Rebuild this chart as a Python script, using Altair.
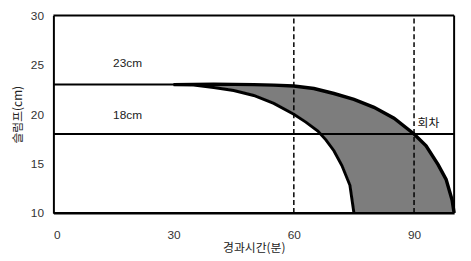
import altair as alt
import pandas as pd

# Data
x_inner = [30, 35, 40, 45, 50, 55, 60, 63, 66, 68, 70, 72, 74, 75]
y_inner = [23.0, 22.95, 22.7, 22.4, 21.9, 21.1, 20.0, 19.2, 18.3, 17.4, 16.3, 14.8, 12.8, 10.0]

x_outer = [30, 40, 50, 55, 60, 65, 70, 75, 80, 85, 90, 93, 96, 98, 99.5, 100]
y_outer = [23.0, 23.05, 23.0, 22.95, 22.85, 22.6, 22.1, 21.5, 20.7, 19.6, 18.0, 16.8, 14.9, 13.4, 11.3, 10.0]

h_levels = [23, 18]
h_start = [0, 0]
h_end = [44, 100]
h_labels = ["23cm", "18cm"]
h_label_x = [18.5, 18.5]
h_label_y = [25.2, 19.9]

v_levels = [60, 90]

note_text = ["회차"]
note_x = [93.6]
note_y = [19.1]

x_ticks = [0, 30, 60, 90]
y_ticks = [10, 15, 20, 25, 30]
x_min, x_max = 0, 100
y_min, y_max = 10, 30

inner = pd.DataFrame({"x": x_inner, "y": y_inner})
outer = pd.DataFrame({"x": x_outer, "y": y_outer})
hdf = pd.DataFrame({"y": h_levels, "x": h_start, "x2": h_end})
ldf = pd.DataFrame({"t": h_labels, "x": h_label_x, "y": h_label_y})
vdf = pd.DataFrame({"x": v_levels})
ndf = pd.DataFrame({"t": note_text, "x": note_x, "y": note_y})

xs = alt.Scale(domain=[x_min, x_max], nice=False, zero=False)
ys = alt.Scale(domain=[y_min, y_max], nice=False, zero=False)

xax = alt.Axis(values=x_ticks, title="경과시간(분)", grid=False, ticks=False, domain=True,
               domainColor="black", domainWidth=2, labelPadding=17, titlePadding=2)
yax = alt.Axis(values=y_ticks, title="슬럼프(cm)", grid=False, ticks=False, domain=True,
               domainColor="black", domainWidth=2, labelPadding=10, titlePadding=6)

X = alt.X("x:Q", scale=xs, axis=xax)
Y = alt.Y("y:Q", scale=ys, axis=yax)

area_outer = alt.Chart(outer).mark_area(color="#7d7d7d", opacity=1).encode(
    x=X, y=Y, y2=alt.datum(y_min))
area_inner = alt.Chart(inner).mark_area(color="white", opacity=1, stroke="white", strokeWidth=2).encode(
    x=alt.X("x:Q", scale=xs), y=alt.Y("y:Q", scale=ys), y2=alt.datum(y_min))

hrules = alt.Chart(hdf).mark_rule(color="black", strokeWidth=2).encode(
    x=alt.X("x:Q", scale=xs), x2="x2:Q", y=alt.Y("y:Q", scale=ys))
vrules = alt.Chart(vdf).mark_rule(color="black", strokeWidth=1.5, strokeDash=[5, 3]).encode(
    x=alt.X("x:Q", scale=xs), y=alt.datum(y_min), y2=alt.datum(y_max))

line_inner = alt.Chart(inner).mark_line(color="black", strokeWidth=3).encode(
    x=alt.X("x:Q", scale=xs), y=alt.Y("y:Q", scale=ys))
line_outer = alt.Chart(outer).mark_line(color="black", strokeWidth=3.5).encode(
    x=alt.X("x:Q", scale=xs), y=alt.Y("y:Q", scale=ys))

frame_top = alt.Chart().mark_rule(color="black", strokeWidth=2).encode(
    x=alt.datum(x_min), x2=alt.datum(x_max), y=alt.datum(y_max))
frame_right = alt.Chart().mark_rule(color="black", strokeWidth=2).encode(
    x=alt.datum(x_max), y=alt.datum(y_min), y2=alt.datum(y_max))
frame_bottom = alt.Chart().mark_rule(color="black", strokeWidth=2).encode(
    x=alt.datum(x_min), x2=alt.datum(x_max), y=alt.datum(y_min))

labels = alt.Chart(ldf).mark_text(font="Liberation Sans", fontSize=12, color="#222").encode(
    x=alt.X("x:Q", scale=xs), y=alt.Y("y:Q", scale=ys), text="t:N")
note = alt.Chart(ndf).mark_text(font="Noto Sans CJK KR", fontSize=12, color="#111").encode(
    x=alt.X("x:Q", scale=xs), y=alt.Y("y:Q", scale=ys), text="t:N")

chart = alt.layer(area_outer, area_inner, hrules, vrules, line_inner, line_outer,
                  frame_top, frame_right, frame_bottom, labels, note).properties(
    width=406, height=200,
    autosize=alt.AutoSizeParams(type="none"),
    padding={"left": 46, "top": 6, "right": 9, "bottom": 40},
).configure_view(
    stroke=None
).configure_axis(
    labelFont="Liberation Sans", labelFontSize=12, labelColor="#333",
    titleFont="Noto Sans CJK KR", titleFontSize=12, titleFontWeight="normal", titleColor="#222"
)

chart.save("out.html", embed_options={"renderer": "svg", "actions": False})
